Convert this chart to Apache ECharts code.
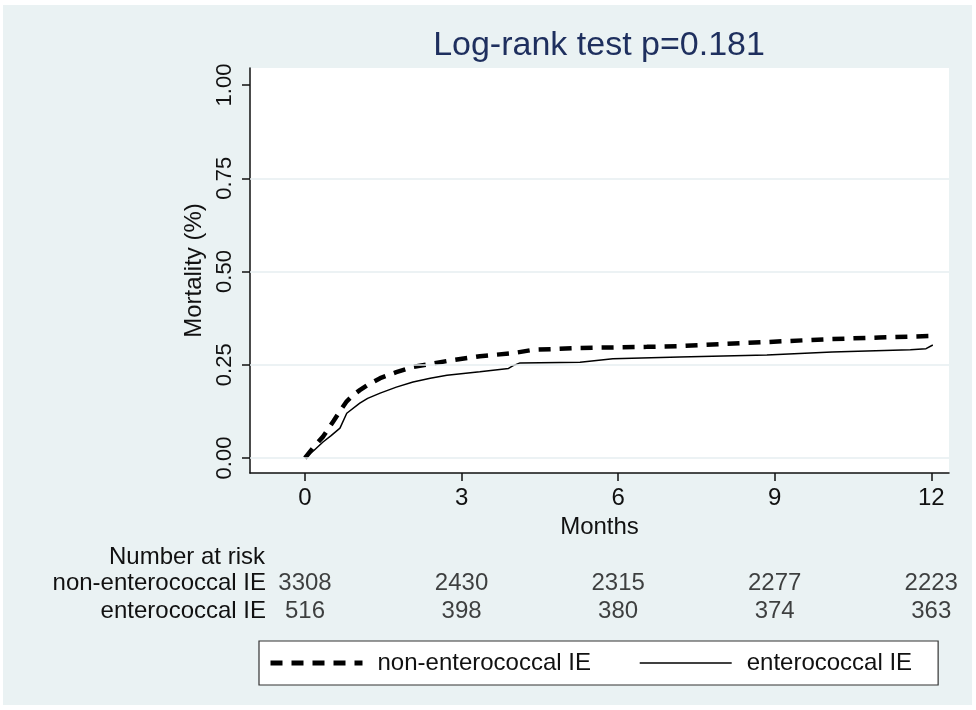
<!DOCTYPE html>
<html style="height: 100%">
<head>
    <meta charset="utf-8">
</head>
<body style="height: 100%; margin: 0; background: #fff">
<div id="container" style="width: 976px; height: 710px"></div>
<script type="text/javascript" src="https://cdn.jsdelivr.net/npm/echarts@6/dist/echarts.min.js"></script>
<script type="text/javascript">
    var dom = document.getElementById("container");
    var myChart = echarts.init(dom);

    // KM failure curves (months, cumulative mortality)
    var nonEntMonths = [0, 0.17, 0.35, 0.55, 0.68, 0.8, 0.92, 1.05, 1.2, 1.44, 1.75, 2.07, 2.72, 3.35, 3.98, 4.37, 5.27, 6.55, 7.18, 8.85, 10.1, 11.0, 12.0];
    var nonEntMortality = [0, 0.03, 0.058, 0.10, 0.128, 0.152, 0.168, 0.182, 0.196, 0.214, 0.23, 0.244, 0.26, 0.273, 0.281, 0.29, 0.295, 0.298, 0.30, 0.311, 0.319, 0.323, 0.327];

    var entMonths = [0, 0.17, 0.345, 0.5, 0.67, 0.8, 1.05, 1.2, 1.44, 1.75, 2.07, 2.4, 2.72, 3.35, 3.9, 3.98, 4.12, 5.27, 5.9, 7.18, 8.85, 10.1, 11.6, 11.9, 12.03];
    var entMortality = [0, 0.02, 0.043, 0.06, 0.08, 0.12, 0.147, 0.16, 0.174, 0.19, 0.204, 0.214, 0.222, 0.231, 0.24, 0.247, 0.255, 0.257, 0.266, 0.271, 0.276, 0.284, 0.29, 0.293, 0.303];

    // number at risk table
    var riskGroups = ['non-enterococcal IE', 'enterococcal IE'];
    var riskMonths = [0, 3, 6, 9, 12];
    var riskNonEnt = [3308, 2430, 2315, 2277, 2223];
    var riskEnt = [516, 398, 380, 374, 363];

    var xTicks = [0, 3, 6, 9, 12];
    var yTicks = [0, 0.25, 0.5, 0.75, 1];

    var FONT = '"Liberation Sans", Arial, sans-serif';
    var bg = '#EAF2F3';

    function pairs(xs, ys) {
        var out = [];
        for (var i = 0; i < xs.length; i++) out.push([xs[i], ys[i]]);
        return out;
    }

    var riskData = [];
    for (var i = 0; i < riskMonths.length; i++) {
        riskData.push([riskMonths[i], riskGroups[0], riskNonEnt[i]]);
        riskData.push([riskMonths[i], riskGroups[1], riskEnt[i]]);
    }

    var option = {
        backgroundColor: '#fff',
        animation: false,
        textStyle: {fontFamily: FONT},
        graphic: [
            {type: 'rect', z: -10, shape: {x: 3, y: 5, width: 969, height: 700}, style: {fill: bg}},
            {type: 'text', x: 599, y: 46, style: {text: 'Log-rank test p=0.181', textAlign: 'center', textVerticalAlign: 'middle',
                    font: '34px ' + FONT, fill: '#1E2F5E'}},
            {type: 'text', x: 265, y: 557, style: {text: 'Number at risk', textAlign: 'right', textVerticalAlign: 'middle',
                    font: '24px ' + FONT, fill: '#111'}}
        ],
        grid: [
            {left: 250, right: 27, top: 68, height: 405, show: true, backgroundColor: '#fff', borderWidth: 0},
            {left: 250, right: 27, top: 569, height: 56}
        ],
        xAxis: [
            {
                gridIndex: 0, type: 'value', min: -1.054, max: 12.34,
                name: 'Months', nameLocation: 'middle', nameGap: 40,
                nameTextStyle: {fontSize: 24, color: '#111'},
                axisLine: {onZero: false, lineStyle: {color: '#111', width: 1.5}},
                axisTick: {customValues: xTicks, length: 8, lineStyle: {color: '#111', width: 1.5}},
                axisLabel: {customValues: xTicks, fontSize: 24, color: '#111', margin: 13},
                splitLine: {show: false}
            },
            {gridIndex: 1, type: 'value', min: -1.054, max: 12.34, show: false}
        ],
        yAxis: [
            {
                gridIndex: 0, type: 'value', min: -0.0402, max: 1.0456,
                name: 'Mortality (%)', nameLocation: 'middle', nameGap: 43,
                nameTextStyle: {fontSize: 24, color: '#111'},
                axisLine: {show: true, onZero: false, lineStyle: {color: '#111', width: 1.5}},
                axisTick: {show: true, customValues: yTicks, length: 8, lineStyle: {color: '#111', width: 1.5}},
                axisLabel: {customValues: yTicks, rotate: 90, fontSize: 22, color: '#111', margin: 14,
                    formatter: function (v) { return v.toFixed(2); }},
                splitLine: {show: false}
            },
            {
                gridIndex: 1, type: 'category', data: riskGroups, inverse: true, offset: -18,
                axisLine: {show: false}, axisTick: {show: false}, splitLine: {show: false},
                axisLabel: {interval: 0, fontSize: 24, color: '#111', margin: 2}
            }
        ],
        legend: {
            left: 259, top: 641,
            orient: 'horizontal',
            backgroundColor: '#fff', borderColor: '#333', borderWidth: 1.2,
            padding: [10, 26, 10, 9],
            itemWidth: 92, itemHeight: 14, itemGap: 48,
            itemStyle: {borderWidth: 0},
            textStyle: {fontSize: 24, color: '#111', padding: [0, 0, 0, 10]},
            data: [
                {name: 'non-enterococcal IE', lineStyle: {width: 5, type: [12, 9], color: '#000'}},
                {name: 'enterococcal IE', lineStyle: {width: 1.5, type: 'solid', color: '#000'}}
            ]
        },
        series: [
            {
                name: 'enterococcal IE', type: 'line', xAxisIndex: 0, yAxisIndex: 0,
                data: pairs(entMonths, entMortality), symbol: 'none',
                itemStyle: {color: 'rgba(0,0,0,0)'},
                lineStyle: {color: '#000', width: 1.5},
                markLine: {
                    silent: true, symbol: 'none', label: {show: false},
                    lineStyle: {color: '#E6EEF1', width: 1.5, type: 'solid'},
                    data: [{yAxis: 0}, {yAxis: 0.25}, {yAxis: 0.5}, {yAxis: 0.75}]
                },
                z: 3
            },
            {
                name: 'non-enterococcal IE', type: 'line', xAxisIndex: 0, yAxisIndex: 0,
                data: pairs(nonEntMonths, nonEntMortality), symbol: 'none',
                itemStyle: {color: 'rgba(0,0,0,0)'},
                lineStyle: {color: '#000', width: 4.5, type: [12, 9]},
                z: 4
            },
            {
                type: 'scatter', xAxisIndex: 1, yAxisIndex: 1, symbolSize: 0,
                data: riskData, silent: true,
                label: {show: true, position: 'inside', fontSize: 24, color: '#111',
                    formatter: function (p) { return p.value[2]; }}
            }
        ]
    };

    myChart.setOption(option);
</script>
</body>
</html>
